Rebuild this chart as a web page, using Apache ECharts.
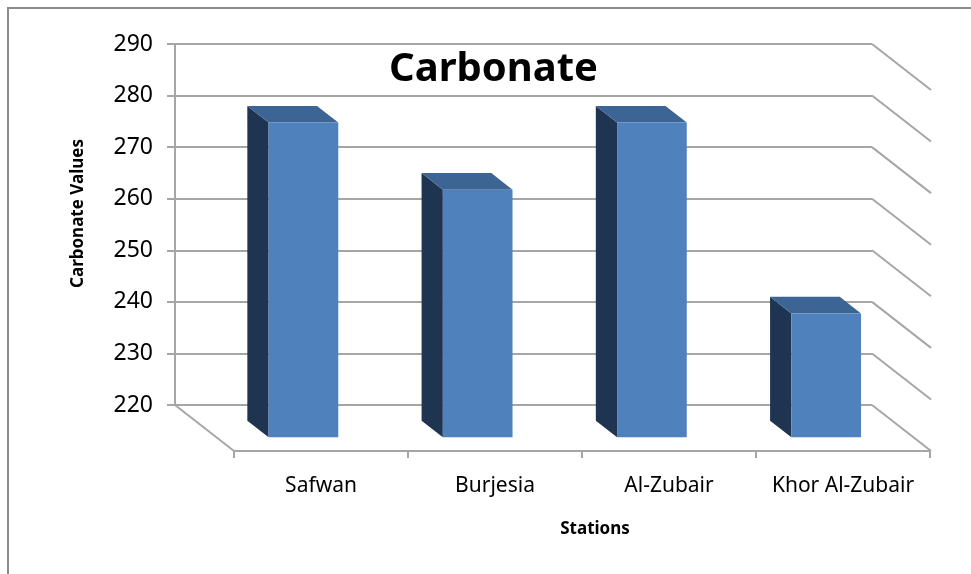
<!DOCTYPE html>
<html>
<head>
<meta charset="utf-8">
<script src="https://cdn.jsdelivr.net/npm/echarts@6/dist/echarts.min.js"></script>
<style>
  html, body { margin: 0; padding: 0; background: #fff; }
  #chart { width: 971px; height: 574px; }
</style>
</head>
<body>
<div id="chart"></div>
<script>
// data
const stations = ['Safwan', 'Burjesia', 'Al-Zubair', 'Khor Al-Zubair'];
const carbonate = [281, 268, 281, 244];
const yTicks = [220, 230, 240, 250, 260, 270, 280, 290];

// 3d look: depth vector of the floor (px) and where the bars sit in it
const DX = 59, DY = 46;
const D_BACK = 0.34, D_FRONT = 0.70;
const font = 'Noto Sans';
const gridColor = '#a6a6a6';

const chart = echarts.init(document.getElementById('chart'));

// back wall diagonals + floor edges
function renderWall(params, api) {
  const cs = params.coordSys;
  const v = api.value(0);
  const y = api.coord([0, v])[1];
  const xr = cs.x + cs.width;
  const style = { stroke: gridColor, lineWidth: 2 };
  const kids = [{
    type: 'line',
    shape: { x1: xr, y1: y, x2: xr + DX, y2: y + DY },
    style: style
  }];
  if (params.dataIndex === 0) {
    kids.push({
      type: 'line',
      shape: { x1: cs.x, y1: y, x2: cs.x + DX, y2: y + DY },
      style: style
    });
  }
  return { type: 'group', children: kids };
}

function renderBar(params, api) {
  const i = api.value(0);
  const top = api.coord([i, api.value(1)]);
  const base = api.coord([i, yTicks[0]]);
  const w = api.size([1, 0])[0] * 0.4;
  const xl = top[0] - w / 2, xr = top[0] + w / 2;
  const bx = DX * D_BACK, by = DY * D_BACK;
  const fx = DX * D_FRONT, fy = DY * D_FRONT;
  return {
    type: 'group',
    children: [
      { // left side
        type: 'polygon',
        shape: { points: [[xl + bx, top[1] + by], [xl + fx, top[1] + fy], [xl + fx, base[1] + fy], [xl + bx, base[1] + by]] },
        style: { fill: '#1f3450' }
      },
      { // top
        type: 'polygon',
        shape: { points: [[xl + bx, top[1] + by], [xr + bx, top[1] + by], [xr + fx, top[1] + fy], [xl + fx, top[1] + fy]] },
        style: { fill: '#3c6595' }
      },
      { // front
        type: 'rect',
        shape: { x: xl + fx, y: top[1] + fy, width: w, height: base[1] - top[1] },
        style: { fill: '#4f81bd' }
      }
    ]
  };
}

const option = {
  animation: false,
  title: {
    text: 'Carbonate',
    left: 384,
    top: 45,
    textStyle: { fontFamily: font, fontSize: 40, fontWeight: 'bold', color: '#000' }
  },
  graphic: [{
    type: 'polyline',
    shape: { points: [[8, 574], [8, 8], [971, 8]] },
    style: { stroke: '#8c8c8c', lineWidth: 2, fill: null }
  }],
  grid: [
    { left: 175, right: 99, top: 44, bottom: 169 },
    { left: 234, right: 41, top: 90, bottom: 123 }
  ],
  xAxis: [
    { type: 'category', data: stations, gridIndex: 0, show: false },
    {
      type: 'category', data: stations, gridIndex: 1,
      name: 'Stations', nameLocation: 'middle', nameGap: 70,
      nameTextStyle: { fontFamily: font, fontSize: 17, fontWeight: 'bold', color: '#000', padding: [0, 0, 0, 26] },
      axisLine: { lineStyle: { color: gridColor, width: 2 } },
      axisTick: { show: true, interval: 0, alignWithLabel: false, length: 7, lineStyle: { color: gridColor, width: 2 } },
      axisLabel: { interval: 0, fontFamily: font, fontSize: 21, color: '#000', margin: 25 }
    }
  ],
  yAxis: [
    {
      type: 'value', gridIndex: 0, min: 220, max: 290, interval: 10,
      name: 'Carbonate Values', nameLocation: 'middle', nameGap: 88, nameRotate: 90,
      nameTextStyle: { fontFamily: font, fontSize: 17, fontWeight: 'bold', color: '#000', padding: [0, 0, 0, 22] },
      axisLine: { show: true, lineStyle: { color: gridColor, width: 2 } },
      axisTick: { show: true, length: 8, lineStyle: { color: gridColor, width: 2 } },
      axisLabel: { fontFamily: font, fontSize: 23, color: '#000', margin: 22 },
      splitLine: { lineStyle: { color: gridColor, width: 2 } }
    },
    { type: 'value', gridIndex: 1, min: 220, max: 290, show: false, splitLine: { show: false } }
  ],
  series: [
    {
      type: 'custom', xAxisIndex: 0, yAxisIndex: 0, z: 1,
      renderItem: renderWall, clip: false,
      data: yTicks.map(v => [v])
    },
    {
      type: 'custom', xAxisIndex: 0, yAxisIndex: 0, z: 5,
      renderItem: renderBar, clip: false,
      encode: { x: 0, y: 1 },
      data: carbonate.map((v, i) => [i, v])
    }
  ]
};

chart.setOption(option);
</script>
</body>
</html>
